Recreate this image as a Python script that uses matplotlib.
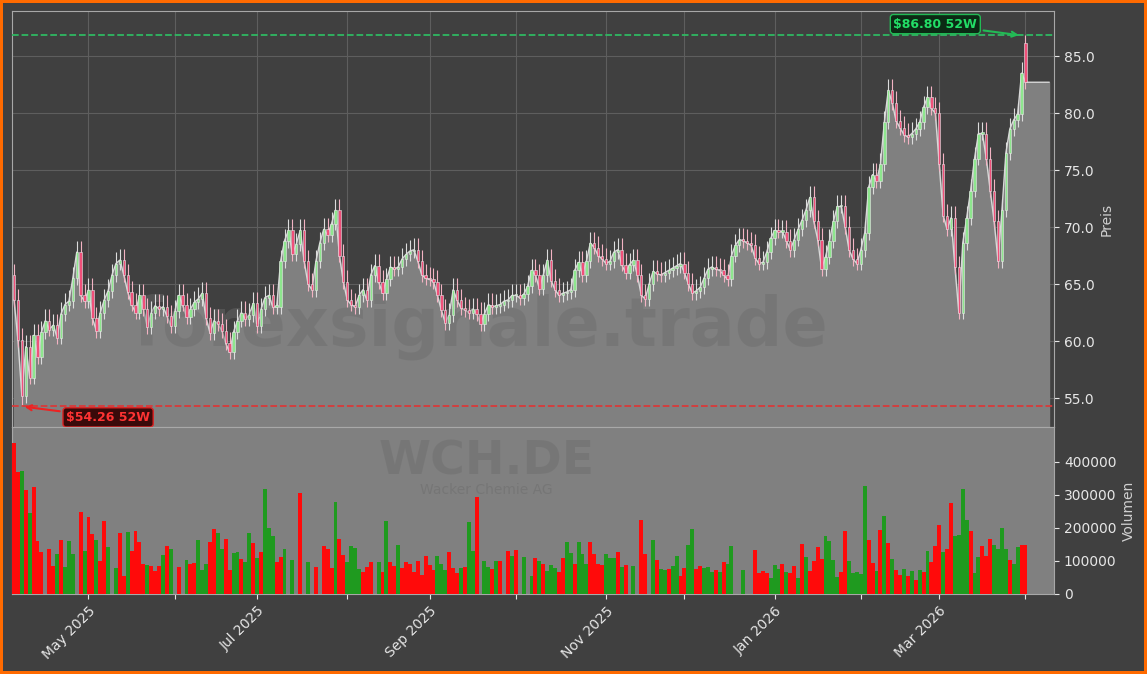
import numpy as np
import pandas as pd
import matplotlib
matplotlib.use('Agg')
from matplotlib import pyplot as plt
from matplotlib.patches import Rectangle

# daily closes (trading days)
closes = [63.6, 60.1, 55.2, 59.5, 56.8, 60.5, 58.6, 60.8, 61.8, 61.0,
          61.4, 60.3, 62.4, 63.2, 63.5, 65.5, 67.8, 64.0, 63.5, 64.5,
          62.0, 60.9, 62.5, 63.6, 64.4, 65.8, 66.8, 67.1, 65.8, 64.3,
          63.2, 62.5, 64.0, 62.8, 61.2, 62.5, 63.1, 62.8, 63.0, 62.2,
          61.3, 62.6, 64.0, 63.2, 62.1, 62.8, 63.4, 63.7, 64.2, 62.0,
          60.7, 61.8, 61.5, 60.9, 59.8, 59.0, 60.8, 61.8, 62.5, 61.9,
          62.3, 63.3, 61.3, 62.8, 63.8, 64.0, 63.0, 63.0, 67.0, 68.8,
          69.7, 67.6, 68.5, 69.7, 67.0, 65.0, 64.5, 67.0, 68.6, 69.8,
          69.3, 70.3, 71.5, 67.5, 65.2, 63.6, 63.2, 63.0, 64.0, 64.5,
          63.6, 65.8, 66.6, 65.2, 64.2, 65.4, 66.5, 66.3, 66.5, 67.2,
          67.6, 67.9, 68.0, 67.0, 65.8, 65.5, 65.4, 65.2, 64.0, 62.7,
          61.6, 62.3, 64.5, 63.6, 62.9, 62.7, 62.5, 62.8, 62.4, 61.5,
          62.4, 63.2, 63.0, 63.1, 63.2, 63.5, 63.6, 64.0, 64.0, 63.8,
          64.1, 64.8, 66.2, 65.8, 64.6, 65.8, 67.1, 65.3, 64.5, 64.0,
          64.2, 64.3, 64.5, 66.2, 66.9, 65.8, 67.0, 68.6, 68.2, 67.5,
          67.2, 66.8, 67.0, 67.8, 68.0, 66.7, 66.0, 66.7, 67.1, 65.8,
          64.0, 63.7, 65.0, 66.1, 65.9, 65.8, 66.0, 66.2, 66.4, 66.6,
          66.8, 66.0, 65.0, 64.2, 64.4, 64.7, 65.5, 66.3, 66.5, 66.3,
          66.2, 65.8, 65.4, 67.5, 68.4, 68.9, 68.8, 68.6, 68.4, 67.3,
          66.8, 66.9, 67.8, 69.0, 69.7, 69.6, 69.6, 68.8, 68.0, 68.9,
          69.8, 70.6, 71.5, 72.6, 70.5, 68.9, 66.3, 67.4, 68.8, 70.5,
          71.8, 71.8, 70.0, 68.0, 67.2, 66.8, 68.0, 69.5, 73.5, 74.6,
          74.0, 75.5, 79.2, 82.0, 80.9, 79.3, 78.7, 78.1, 77.9, 78.2,
          78.6, 79.2, 80.5, 81.4, 80.4, 80.0, 75.5, 71.0, 69.8, 70.8,
          66.5, 62.5, 68.6, 70.8, 73.2, 76.0, 78.2, 78.2, 76.0, 73.2,
          70.5, 67.0, 71.5, 76.5, 78.6, 79.4, 79.9, 83.5, 82.7]

# volume per day in thousands (0 = no bar), colour flag G/R as drawn
volumes = [457, 370, 372, 314, 245, 324, 160, 127, 0, 136,
           85, 120, 163, 82, 160, 120, 0, 247, 130, 232,
           181, 163, 99, 220, 141, 0, 78, 184, 55, 187,
           130, 190, 157, 92, 88, 85, 69, 85, 117, 144,
           135, 0, 82, 0, 102, 91, 93, 163, 72, 90,
           157, 196, 184, 135, 166, 72, 123, 126, 105, 96,
           184, 154, 108, 126, 317, 199, 175, 96, 111, 135,
           0, 102, 0, 305, 0, 96, 0, 81, 0, 144,
           135, 78, 278, 166, 117, 96, 144, 138, 75, 66,
           81, 96, 0, 96, 66, 220, 96, 84, 147, 78,
           96, 90, 66, 99, 57, 114, 87, 72, 114, 90,
           72, 126, 78, 63, 78, 81, 218, 130, 293, 0,
           99, 81, 75, 99, 99, 0, 130, 114, 133, 0,
           111, 0, 54, 108, 99, 90, 69, 87, 78, 66,
           108, 157, 123, 90, 157, 122, 90, 157, 122, 90,
           87, 122, 108, 108, 126, 81, 87, 0, 84, 0,
           224, 122, 0, 164, 102, 75, 72, 75, 84, 114,
           54, 78, 147, 197, 75, 84, 78, 81, 66, 72,
           66, 96, 90, 144, 0, 0, 72, 0, 0, 133,
           63, 69, 63, 48, 88, 75, 90, 66, 63, 84,
           48, 150, 111, 69, 99, 141, 105, 175, 160, 102,
           51, 66, 190, 99, 63, 66, 60, 326, 163, 93,
           69, 193, 235, 154, 105, 72, 57, 75, 54, 69,
           42, 72, 66, 130, 96, 144, 208, 126, 135, 275,
           175, 180, 319, 223, 190, 63, 111, 144, 114, 166,
           147, 135, 199, 135, 102, 90, 142, 148, 148]
vol_colors = ("RRGRGRRRRR" "RGRGGGRRGR" "RGRRGRGRRG" "RRRRGRRRGR"
              "GRRRGRRGGG" "RRGGRRGGRG" "GRGRGGGRRG" "RGRRRGRRRR"
              "RRGRRGGGGR" "RRRGRGRRGR" "RRRRRRRRGG" "GRRRGRGGRR"
              "GGRGRRRGRR" "GRGRGRGGGR" "RGGRGGGRRR" "RGGGRGRRGR"
              "RRRGRGGRGG" "RRGGRRGGGR" "GRGGRRGRRR" "RRRGGGRGRR"
              "GRGRRRRGGG" "GRRGGGGGRR" "GRGRGRRGRG" "RGRGRRRGRR"
              "GGGGRGGRRR" "GGGGRGGR")

dates = pd.bdate_range(end='2026-04-01', periods=len(closes))
idx = np.arange(len(closes))
opens = [65.8] + closes[:-1]
opens[-1] = 86.1
wick = 1.0
highs = [max(o, c) + wick for o, c in zip(opens, closes)]
lows = [min(o, c) - wick * 0.6 for o, c in zip(opens, closes)]
high_52w, low_52w = 86.80, 54.26
i_high, i_low = len(closes) - 1, 2
highs[i_high] = high_52w
lows[i_low] = low_52w

bg = '#404040'
fig = plt.figure(figsize=(11.47, 6.74), dpi=100, facecolor=bg)
fig.patch.set_edgecolor('#ff6a00')
fig.patch.set_linewidth(4)

ax = fig.add_axes([0.0105, 0.3665, 0.9085, 0.6172], facecolor=bg)
axv = fig.add_axes([0.0105, 0.1187, 0.9085, 0.2478], facecolor='#808080', sharex=ax)

# area under closes, extended flat to the right edge
xa = list(idx) + [264.0]
ya = closes + [closes[-1]]
ax.fill_between(xa, ya, 52.46, color='#808080', zorder=1)
ax.plot(xa, ya, color='#d8d8d8', lw=1, zorder=2)

for i in idx:
    o, c = opens[i], closes[i]
    up = c >= o
    col = '#8ee68e' if up else '#f0507a'
    ax.vlines(i, lows[i], highs[i], color='#dcdcdc' if up else '#f3b3c3', lw=0.8, zorder=3)
    ax.add_patch(Rectangle((i - 0.3, min(o, c)), 0.6, max(abs(c - o), 0.12),
                           facecolor=col, edgecolor='#e8e8e8', lw=0.4, zorder=4))

ax.axhline(high_52w, color='#2fb862', ls='--', lw=1.3, zorder=5)
ax.axhline(low_52w, color='#d83a3a', ls='--', lw=1.3, zorder=5)
ax.annotate('$86.80 52W', xy=(i_high - 1, high_52w), xytext=(235, 87.8),
            color='#22dd66', fontsize=9, fontweight='bold', ha='center', va='center',
            bbox=dict(boxstyle='round,pad=0.25', fc='#0b2a14', ec='#22bb55'),
            arrowprops=dict(arrowstyle='->', color='#22bb55', lw=1.5), zorder=6)
ax.annotate('$54.26 52W', xy=(i_low, low_52w), xytext=(24, 53.3),
            color='#ff3333', fontsize=9, fontweight='bold', ha='center', va='center',
            bbox=dict(boxstyle='round,pad=0.25', fc='#3a0a0a', ec='#dd2222'),
            arrowprops=dict(arrowstyle='->', color='#ee2222', lw=1.5), zorder=6)

ax.text(0.45, 0.24, 'forexsignale.trade', transform=ax.transAxes, fontsize=48,
        fontweight='bold', color='#6c6c6c', alpha=0.45, ha='center', va='center', zorder=2)
axv.text(0.455, 0.79, 'WCH.DE', transform=axv.transAxes, fontsize=34,
         fontweight='bold', color='#6c6c6c', alpha=0.45, ha='center', va='center')
axv.text(0.455, 0.62, 'Wacker Chemie AG', transform=axv.transAxes, fontsize=10,
         color='#6c6c6c', alpha=0.5, ha='center', va='center')

bar_cols = ['#ff0a0a' if f == 'R' else '#1f9a1f' for f in vol_colors]
axv.bar(idx, [v * 1000 for v in volumes], width=1.0, color=bar_cols, zorder=3)

ax.set_xlim(-0.5, 265.3)
ax.set_ylim(52.46, 88.95)
axv.set_ylim(0, 506000)

for a in (ax, axv):
    a.yaxis.tick_right()
    a.yaxis.set_label_position('right')
    a.tick_params(colors='#e6e6e6', labelsize=10)
    for s in a.spines.values():
        s.set_color('#a8a8a8')
ax.grid(True, color='#5e5e5e', lw=0.8, zorder=0)
ax.set_axisbelow(True)
ax.set_yticks([55, 60, 65, 70, 75, 80, 85])
ax.yaxis.set_major_formatter(matplotlib.ticker.FormatStrFormatter('%.1f'))
ax.set_ylabel('Preis', color='#d0d0d0', fontsize=10)
axv.set_ylabel('Volumen', color='#d0d0d0', fontsize=10)
axv.set_yticks([0, 100000, 200000, 300000, 400000])
axv.yaxis.set_major_formatter(matplotlib.ticker.FormatStrFormatter('%d'))
plt.setp(ax.get_xticklabels(), visible=False)

# month ticks at the first trading day of each month
months = pd.Series(idx, index=dates).groupby(dates.to_period('M')).first()
tick_pos = list(months.values[1:])
tick_lab = [p.strftime('%b %Y') if p.month % 2 == 1 else '' for p in months.index[1:]]
axv.set_xticks(tick_pos)
axv.set_xticklabels(tick_lab, rotation=45, ha='right', rotation_mode='anchor')
ax.tick_params(axis='x', length=0)

fig.savefig('out.png', dpi=100, facecolor=bg, edgecolor=fig.patch.get_edgecolor())
